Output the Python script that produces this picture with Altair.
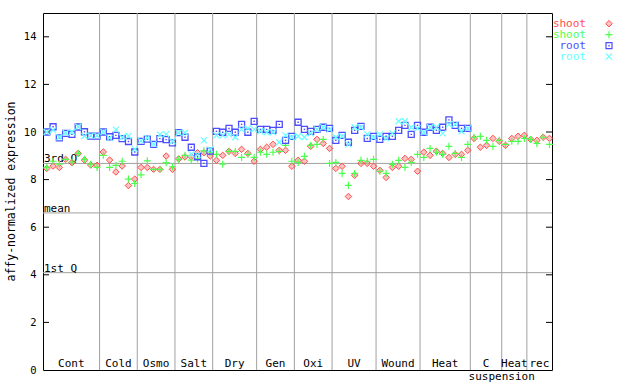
import altair as alt
import pandas as pd

# ---------------- data ----------------
groups = ["Cont", "Cold", "Osmo", "Salt", "Dry", "Gen", "Oxi", "UV", "Wound", "Heat", "C", "Heat", "rec"]
group_sizes = [9, 6, 6, 6, 7, 6, 6, 7, 7, 8, 5, 4, 4]
sub_label = "suspension"          # second line belonging to the "C" group
sub_label_group = 10

shoot_red = [8.47, 8.57, 8.51, 8.85, 8.71, 9.10, 8.82, 8.61, 8.60,
             9.16, 8.82, 8.32, 8.57, 7.75, 8.02,
             8.51, 8.51, 8.43, 8.43, 8.99, 8.43,
             8.87, 8.95, 8.96, 9.13, 9.13, 8.99,
             8.81, 9.02, 9.19, 9.10, 9.27, 9.10, 8.77,
             9.27, 9.36, 9.48, 9.23, 9.23, 8.56,
             8.81, 8.77, 9.40, 9.69, 9.52, 9.31,
             8.47, 8.56, 7.29, 8.18, 8.68, 8.68, 8.56,
             8.39, 8.09, 8.51, 8.56, 8.89, 8.85, 8.35,
             9.15, 9.02, 9.19, 9.10, 8.93, 9.06, 9.06, 9.23,
             9.73, 9.36, 9.44, 9.73, 9.61,
             9.44, 9.73, 9.82, 9.86,
             9.69, 9.65, 9.78, 9.73]
shoot_green = [8.51, 8.77, 8.65, 8.85, 8.74, 9.10, 8.85, 8.65, 8.51,
               9.02, 8.51, 8.60, 8.77, 8.02, 7.84,
               8.20, 8.79, 8.43, 8.43, 8.71, 8.54,
               8.85, 9.02, 8.82, 8.88, 9.21, 9.15,
               9.06, 8.65, 9.19, 9.19, 8.93, 9.06, 8.93,
               9.15, 9.06, 9.15, 9.19, 9.44, 8.77,
               8.72, 8.98, 9.44, 9.48, 9.69, 8.68,
               8.72, 8.26, 7.76, 8.26, 8.81, 8.77, 8.85,
               8.35, 8.26, 8.64, 8.81, 8.51, 8.72, 9.06,
               8.93, 9.31, 9.15, 9.06, 9.40, 9.10, 8.93, 9.48,
               9.78, 9.82, 9.65, 9.40, 9.65,
               9.48, 9.61, 9.61, 9.73,
               9.69, 9.52, 9.78, 9.48]
root_blue = [10.00, 10.22, 9.75, 9.94, 9.90, 10.21, 10.01, 9.83, 9.83,
             10.00, 9.80, 9.86, 9.72, 9.60, 9.16,
             9.61, 9.70, 9.48, 9.72, 9.68, 9.54,
             9.97, 9.78, 9.36, 8.96, 8.68, 9.20,
             10.03, 9.99, 10.15, 9.99, 10.32, 9.99, 10.45,
             10.11, 10.11, 10.07, 10.32, 9.65, 9.82,
             10.41, 10.11, 10.03, 10.11, 10.20, 10.15,
             9.65, 9.86, 9.57, 10.07, 10.24, 9.73, 9.82,
             9.69, 9.82, 9.82, 10.07, 10.28, 9.90, 10.28,
             9.99, 10.20, 10.07, 10.20, 10.51, 10.28, 10.15, 10.15]
root_cyan = [10.00, 10.08, 9.78, 9.96, 10.00, 10.22, 9.83, 9.85, 9.85,
             10.00, 9.74, 10.10, 9.78, 9.83, 9.28,
             9.63, 9.75, 9.49, 9.89, 9.91, 9.61,
             9.97, 9.97, 9.07, 9.04, 9.65, 9.27,
             9.86, 9.86, 9.90, 9.78, 10.11, 10.15, 10.11,
             10.03, 9.99, 9.99, 9.57, 9.86, 9.78,
             9.82, 9.78, 9.94, 10.11, 10.20, 10.11,
             9.78, 9.82, 9.48, 10.20, 10.20, 9.90, 9.78,
             9.90, 9.73, 9.94, 10.45, 10.45, 10.20, 10.15,
             9.99, 10.20, 10.20, 9.94, 10.32, 10.32, 10.03, 10.15]

series_labels = ["shoot", "shoot", "root", "root"]
series_values = [shoot_red, shoot_green, root_blue, root_cyan]

quant_labels = ["3rd Q", "mean", "1st Q"]
quant_values = [8.68, 6.60, 4.09]
y_ticks = [0, 2, 4, 6, 8, 10, 12, 14]

# ---------------- styling ----------------
FONT = "DejaVu Sans Mono"
colors = ["#ff4d4d", "#4dff4d", "#4d4dff", "#66ffff"]
GRID = "#a0a0a0"
W, H = 509, 357
n_total = sum(group_sizes)
OFFSET = 0.6

xs = alt.Scale(domain=[0, n_total], nice=False, zero=False)
ys = alt.Scale(domain=[0, 15], nice=False, zero=True)
yaxis = alt.Axis(values=y_ticks, ticks=False, domain=False, grid=False,
                 labelFont=FONT, labelFontSize=10.5, labelColor="black", labelPadding=7,
                 title="affy-normalized expression", titleFont=FONT, titleFontSize=11.5,
                 titleFontWeight="normal", titleColor="black", titleX=-32, titleY=178,
                 titleBaseline="middle")


def Y(field):
    return alt.Y(field, type="quantitative", scale=ys, axis=yaxis)


def X(field):
    return alt.X(field, type="quantitative", scale=xs, axis=None)


# boundaries & centres
bounds, centres = [], []
acc = 0
for s in group_sizes:
    centres.append(acc + s / 2)
    acc += s
    bounds.append(acc)
bounds_df = pd.DataFrame({"b": bounds[:-1]})
labels_df = pd.DataFrame({"c": centres, "label": groups})
sub_df = pd.DataFrame({"c": [bounds[sub_label_group]], "label": [sub_label]})
quant_df = pd.DataFrame({"q": quant_values, "label": quant_labels})
ticks_df = pd.DataFrame({"t": y_ticks[1:]})

vrules = alt.Chart(bounds_df).mark_rule(color=GRID, strokeWidth=1).encode(x=X("b"))
hrules = alt.Chart(quant_df).mark_rule(color=GRID, strokeWidth=1).encode(y=Y("q"))
qtext = alt.Chart(quant_df).mark_text(align="left", baseline="alphabetic", dx=1, dy=-1,
                                      font=FONT, fontSize=11, color="black").encode(
    x=alt.value(0), y=Y("q"), text="label:N")
lticks = alt.Chart(ticks_df).mark_rule(color="black", strokeWidth=1).encode(
    x=alt.value(0), x2=alt.value(6), y=Y("t"))
rticks = alt.Chart(ticks_df).mark_rule(color="black", strokeWidth=1).encode(
    x=alt.value(W - 6), x2=alt.value(W), y=Y("t"))

glabels = alt.Chart(labels_df).mark_text(font=FONT, fontSize=11, color="black",
                                         baseline="middle").encode(
    x=X("c"), y=alt.value(351.3), text="label:N")
slabel = alt.Chart(sub_df).mark_text(font=FONT, fontSize=11, color="black",
                                     baseline="middle").encode(
    x=X("c"), y=alt.value(364), text="label:N")

PLUS = "M-1,0L1,0M0,-1L0,1"
CROSS = "M-1,-1L1,1M-1,1L1,-1"


def series_df(vals):
    return pd.DataFrame({"pos": [i + OFFSET for i in range(len(vals))], "v": vals})


red_pts = alt.Chart(series_df(shoot_red)).mark_point(
    shape="diamond", size=42, filled=False, stroke=colors[0], fill=colors[0],
    fillOpacity=0.35, strokeWidth=1, opacity=1).encode(x=X("pos"), y=Y("v"))
green_pts = alt.Chart(series_df(shoot_green)).mark_point(
    shape=PLUS, size=49, filled=False, color=colors[1], strokeWidth=1.2, opacity=1).encode(
    x=X("pos"), y=Y("v"))
blue_pts = alt.Chart(series_df(root_blue)).mark_point(
    shape="square", size=36, filled=False, color=colors[2], strokeWidth=1.3, opacity=1).encode(
    x=X("pos"), y=Y("v"))
blue_dots = alt.Chart(series_df(root_blue)).mark_square(
    size=2, color=colors[2], opacity=1).encode(x=X("pos"), y=Y("v"))
cyan_pts = alt.Chart(series_df(root_cyan)).mark_point(
    shape=CROSS, size=36, filled=False, color=colors[3], strokeWidth=1.2, opacity=1).encode(
    x=X("pos"), y=Y("v"))

# legend (label then symbol, as in the reference)
legend_layers = []
shapes = [("diamond", 42), (PLUS, 49), ("square", 36), (CROSS, 36)]
for k, (name, col) in enumerate(zip(series_labels, colors)):
    yy = 10.7 + 11 * k
    ldf = pd.DataFrame({"label": [name]})
    legend_layers.append(alt.Chart(ldf).mark_text(
        align="right", baseline="middle", font=FONT, fontSize=11, color=col).encode(
        x=alt.value(543), y=alt.value(yy), text="label:N"))
    shp, sz = shapes[k]
    if k == 0:
        m = alt.Chart(ldf).mark_point(shape=shp, size=sz, filled=False, stroke=col, fill=col,
                                      fillOpacity=0.35, strokeWidth=1, opacity=1)
    else:
        m = alt.Chart(ldf).mark_point(shape=shp, size=sz, filled=False, color=col,
                                      strokeWidth=1.2, opacity=1)
    legend_layers.append(m.encode(x=alt.value(566), y=alt.value(yy)))
    if k == 2:
        legend_layers.append(alt.Chart(ldf).mark_square(size=2, color=col, opacity=1).encode(
            x=alt.value(566), y=alt.value(yy)))

chart = alt.layer(
    vrules, hrules, qtext, lticks, rticks,
    red_pts, green_pts, blue_pts, blue_dots, cyan_pts,
    glabels, slabel, *legend_layers
).properties(
    width=W, height=H,
    autosize=alt.AutoSizeParams(type="none"),
    padding={"left": 43, "top": 13, "right": 640 - 43 - W, "bottom": 384 - 13 - H},
).configure_view(stroke="black", strokeWidth=1)

chart.save("out.html", embed_options={"renderer": "svg", "actions": False})
